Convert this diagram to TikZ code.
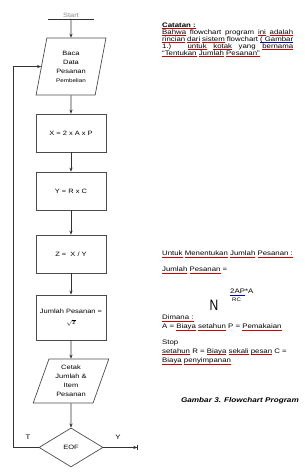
\documentclass[tikz,border=0pt]{standalone}
\usepackage{fontspec}
\setmainfont{Liberation Sans}[FakeStretch=1.2]
\newfontfamily\akarfont{Liberation Sans}[FakeStretch=0.8]
\usetikzlibrary{positioning,arrows.meta,shapes.geometric}
\newsavebox\sqbox
\newcommand{\sq}[2][red!80!black]{\mbox{\sbox\sqbox{#2}\rlap{\color{#1}\rule[-1.2pt]{\wd\sqbox}{0.35pt}}\usebox\sqbox}}
\newcommand{\fsz}[2]{\fontsize{#1}{#2}\selectfont}

\begin{document}
\begin{tikzpicture}[
  proc/.style={rectangle, draw=black!70, line width=0.7pt, minimum width=2.45cm, minimum height=1.33cm, align=center, font=\fsz{6.2}{8}},
  io/.style={trapezium, trapezium stretches=true, draw=black!70, line width=0.7pt, align=center, font=\fsz{6.2}{9}},
  decision/.style={diamond, draw=black!70, line width=0.7pt, minimum width=2.24cm, minimum height=1.365cm, inner sep=0pt, font=\fsz{6.2}{8}},
  flow/.style={draw=black!80, line width=0.7pt},
  note/.style={inner sep=0pt, align=left, font=\fsz{6.5}{7}},
  >={Stealth[length=4pt,width=3.2pt]}
]
  \useasboundingbox (0,0) rectangle (10.64,-16.66);

  \node[inner sep=1pt, minimum width=1.575cm, anchor=south, text=black!45, font=\fsz{6.2}{7}] (start) at (2.485,-0.665) {Start};
  \node[io, trapezium left angle=78, trapezium right angle=102, minimum width=2.45cm, minimum height=1.995cm] (baca) at (2.485,-2.33) {Baca\\Data\\Pesanan\\{\fsz{5.2}{9}Pembelian}};
  \node[proc] (kali) at (2.485,-4.655) {X = 2 x A x P};
  \node[proc] (biaya) at (2.485,-6.685) {Y = R x C};
  \node[proc] (bagi) at (2.485,-8.89) {Z =\ \ X / Y};
  \node[proc, minimum height=1.575cm] (jumlah) at (2.485,-11.11) {Jumlah Pesanan =\\[3pt]$\sqrt{\hbox{\fsz{5.5}{7}z}}$};
  \node[io, trapezium left angle=70.6, trapezium right angle=109.4, minimum width=2.66cm, minimum height=1.54cm] (cetak) at (2.485,-13.335) {Cetak\\Jumlah \&\\Item\\Pesanan};
  \node[decision] (eof) at (2.485,-15.66) {EOF};
  \coordinate (back) at (0.455,-15.66);
  \coordinate (stop) at (4.83,-15.66);
  \node[font=\fsz{6.5}{7}] (t) at (0.98,-15.3) {T};
  \node[font=\fsz{6.5}{7}] (y) at (4.13,-15.3) {Y};

  \node[note, text width=4.585cm, align=justify, anchor=north west] (catatan) at (5.67,-0.78) {\textbf{\sq{Catatan :}}\\ \sq{Bahwa} flowchart program \sq{ini} \sq{adalah}\linebreak \sq{rincian} \sq{dari} \sq{sistem} flowchart \sq[blue!70!black]{( Gambar}\linebreak 1.) \sq{untuk} \sq{kotak} yang \sq{bernama}\linebreak \sq{“Tentukan} \sq{Jumlah} \sq{Pesanan”}};
  \node[note, anchor=west] (untuk) at (5.67,-8.89) {\sq{Untuk} \sq{Menentukan} \sq{Jumlah} \sq{Pesanan :}};
  \node[note, anchor=west] (rumus) at (5.67,-9.45) {\sq{Jumlah} \sq{Pesanan} =};
  \node[note, anchor=west] (atas) at (8.05,-10.22) {\sq[blue!70!black]{2AP}*A};
  \node[inner sep=0pt, font=\akarfont\fsz{15}{15}] (akar) at (7.49,-10.69) {N};
  \node[inner sep=0pt, anchor=west, font=\fsz{5}{6}] (bawah) at (8.12,-10.5) {RC};
  \node[note, anchor=west, font=\fsz{6.5}{9}] (dimana) at (5.67,-11.29) {\sq{Dimana :}\\A = \sq{Biaya} \sq{setahun} P = \sq{Pemakaian}};
  \node[note, anchor=west, font=\fsz{6.5}{9.3}] (ket) at (5.67,-12.32) {Stop\\\sq{setahun} R = \sq{Biaya} \sq{sekali} \sq{pesan} C =\\\sq{Biaya} \sq{penyimpanan}};
  \node[inner sep=0pt, anchor=east, font=\fsz{6.8}{8}\bfseries\itshape] (judul) at (10.465,-14.035) {Gambar 3. Flowchart Program};

  \draw[flow] (start.south west) -- (start.south east);
  \draw[flow,->] (start.south) -- (baca);
  \draw[flow,->] (baca) -- (kali);
  \draw[flow,->] (kali) -- (biaya);
  \draw[flow,->] (biaya) -- (bagi);
  \draw[flow,->] (bagi) -- (jumlah);
  \draw[flow,->] (jumlah) -- (cetak);
  \draw[flow,->] (cetak) -- (eof);
  \draw[flow,->] (eof.west) -- (back) |- (baca);
  \draw[flow,-{Stealth[length=4pt,width=3.2pt]Bar[width=5pt]}] (eof.east) -- (stop);
\end{tikzpicture}
\end{document}
